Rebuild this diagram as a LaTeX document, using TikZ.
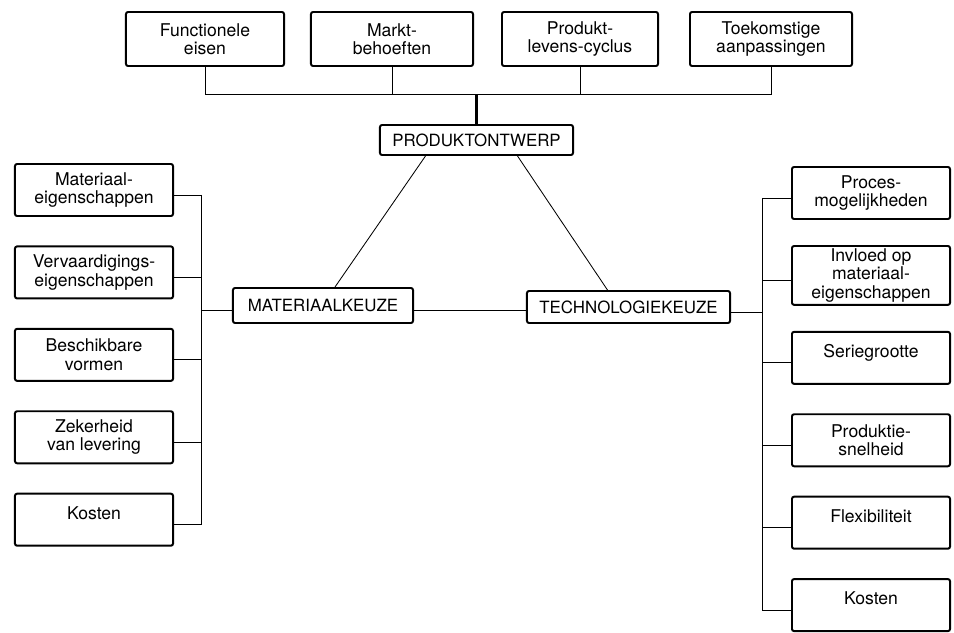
\documentclass[tikz,border=0pt]{standalone}
\usepackage{fontspec}
\setmainfont{TeX Gyre Heros}
\usetikzlibrary{calc}
\begin{document}
\begin{tikzpicture}[x=0.025cm, y=-0.025cm, node distance=2.06cm,
    factor/.style={rectangle, rounded corners=1.5pt, draw, line width=1.4pt, align=center,
                   minimum width=3.95cm, minimum height=1.3cm, inner sep=2pt,
                   font=\fontsize{12.5}{13}\selectfont},
    oneline/.style={text depth=10pt},
    choice/.style={rectangle, rounded corners=1.5pt, draw, line width=1.4pt,
                   minimum height=0.8cm, font=\fontsize{12}{13}\selectfont},
    link/.style={line width=0.6pt}]
  \useasboundingbox (0,0) rectangle (954,632);
  % eisen aan het produkt
  \node[factor, minimum width=3.95cm, minimum height=1.35cm] (fun) at (205,39) {Functionele\\eisen};
  \node[factor, minimum width=4.05cm, minimum height=1.35cm] (mar) at (392,39) {Markt-\\behoeften};
  \node[factor, minimum width=3.9cm, minimum height=1.35cm]  (plc) at (580,39) {Produkt-\\levens-cyclus};
  \node[factor, minimum width=4.05cm, minimum height=1.35cm] (toe) at (771,39) {Toekomstige\\aanpassingen};
  % keuzes
  \node[choice, minimum width=4.825cm, minimum height=0.75cm] (pro) at (476.5,140) {PRODUKTONTWERP};
  \node[choice, minimum width=4.5cm, minimum height=0.875cm]  (mat) at (323,305.5) {MATERIAALKEUZE};
  \node[choice, minimum width=5.075cm] (tech) at (628.5,307) {TECHNOLOGIEKEUZE};
  % materiaal
  \node[factor] (m1) at (94,190) {Materiaal-\\eigenschappen};
  \node[factor, below of=m1] (m2) {Vervaardigings-\\eigenschappen};
  \node[factor, below of=m2] (m3) {Beschikbare\\vormen};
  \node[factor, below of=m3] (m4) {Zekerheid\\van levering};
  \node[factor, oneline, below of=m4] (m5) {Kosten};
  % technologie
  \node[factor] (t1) at (871,193) {Proces-\\mogelijkheden};
  \node[factor, below of=t1] (t2) {Invloed op\\materiaal-\\eigenschappen};
  \node[factor, oneline, below of=t2] (t3) {Seriegrootte};
  \node[factor, below of=t3] (t4) {Produktie-\\snelheid};
  \node[factor, oneline, below of=t4] (t5) {Flexibiliteit};
  \node[factor, oneline, below of=t5] (t6) {Kosten};

  \draw[link] (fun.south) -- ++(0,27) coordinate (bar) -| (toe.south);
  \draw[link] (mar.south) -- (mar.south |- bar);
  \draw[link] (plc.south) -- (plc.south |- bar);
  \draw[line width=2pt] (pro.north) -- (pro.north |- bar);
  \draw[link] ($(pro.south)+(-51,0)$) -- ($(mat.north)+(12,0)$);
  \draw[link] ($(pro.south)+(41,0)$) -- ($(tech.north)+(-21,0)$);
  \draw[link] ([yshift=-3.5pt]mat.east) -- ([yshift=-3.5pt]mat.east -| tech.west);

  \draw[link] ([yshift=-3.5pt]mat.west) -- ++(-31,0) coordinate (lbus);
  \draw[link] ([yshift=-3.5pt]lbus |- m1.east) -- ([yshift=-3.5pt]lbus |- m5.east);
  \foreach \n in {m1,m2,m3,m4,m5}
    \draw[link] ([yshift=-3.5pt]\n.east) -- ([yshift=-3.5pt]\n.east -| lbus);

  \draw[link] ([yshift=-3.5pt]tech.east) -- ++(31,0) coordinate (rbus);
  \draw[link] ([yshift=-3.5pt]rbus |- t1.west) -- ([yshift=-3.5pt]rbus |- t6.west);
  \foreach \n in {t1,t2,t3,t4,t5,t6}
    \draw[link] ([yshift=-3.5pt]\n.west) -- ([yshift=-3.5pt]\n.west -| rbus);
\end{tikzpicture}
\end{document}
